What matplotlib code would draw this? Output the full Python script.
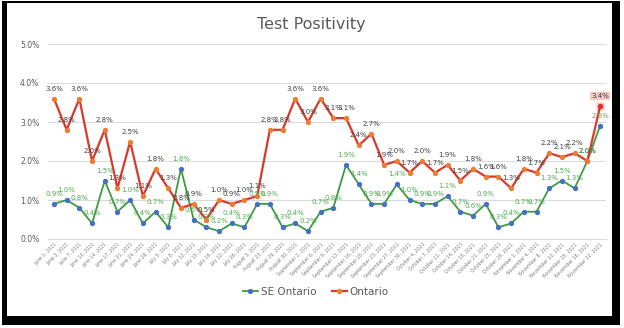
import matplotlib
matplotlib.use("Agg")
import matplotlib.pyplot as plt
from matplotlib.patches import Rectangle

dates = ["June 1, 2021", "June 3, 2021", "June 7, 2021", "June 10, 2021", "June 14, 2021",
         "June 17, 2021", "June 21, 2021", "June 24, 2021", "June 28, 2021", "July 5, 2021",
         "July 8, 2021", "July 12, 2021", "July 15, 2021", "July 19, 2021", "July 22, 2021",
         "July 26, 2021", "August 3, 2021", "August 23, 2021", "August 26, 2021", "August 30, 2021",
         "September 2, 2021", "September 6, 2021", "September 9, 2021", "September 13, 2021",
         "September 16, 2021", "September 20, 2021", "September 23, 2021", "September 27, 2021",
         "September 30, 2021", "October 4, 2021", "October 7, 2021", "October 11, 2021",
         "October 14, 2021", "October 18, 2021", "October 21, 2021", "October 25, 2021",
         "October 28, 2021", "November 1, 2021", "November 4, 2021", "November 8, 2021",
         "November 11, 2021", "November 15, 2021", "November 18, 2021", "November 22, 2021"]

se_ontario = [0.9, 1.0, 0.8, 0.4, 1.5, 0.7, 1.0, 0.4, 0.7, 0.3, 1.8, 0.5, 0.3, 0.2, 0.4,
              0.3, 0.9, 0.9, 0.3, 0.4, 0.2, 0.7, 0.8, 1.9, 1.4, 0.9, 0.9, 1.4, 1.0, 0.9,
              0.9, 1.1, 0.7, 0.6, 0.9, 0.3, 0.4, 0.7, 0.7, 1.3, 1.5, 1.3, 2.0, 2.9]

ontario = [3.6, 2.8, 3.6, 2.0, 2.8, 1.3, 2.5, 1.1, 1.8, 1.3, 0.8, 0.9, 0.5, 1.0, 0.9,
           1.0, 1.1, 2.8, 2.8, 3.6, 3.0, 3.6, 3.1, 3.1, 2.4, 2.7, 1.9, 2.0, 1.7, 2.0,
           1.7, 1.9, 1.5, 1.8, 1.6, 1.6, 1.3, 1.8, 1.7, 2.2, 2.1, 2.2, 2.0, 3.4]

yticks = [0.0, 1.0, 2.0, 3.0, 4.0, 5.0]

W, H = 624, 328
fig = plt.figure(figsize=(W / 100, H / 100), dpi=100)
fig.patch.set_facecolor("white")

# screenshot frame
fig.patches.append(Rectangle((2 / W, 1 - 325 / H), 618 / W, 324 / H, transform=fig.transFigure,
                             facecolor="black", edgecolor="none", zorder=-2))
fig.patches.append(Rectangle((7 / W, 1 - 316 / H), 605 / W, 313 / H, transform=fig.transFigure,
                             facecolor="white", edgecolor="none", zorder=-1))

left, right = 47.6 / W, 606.4 / W
bottom, top = 1 - 239 / H, 1 - 44 / H
ax = fig.add_axes([left, bottom, right - left, top - bottom])
ax.set_facecolor("none")

x = list(range(len(dates)))
ax.set_xlim(-0.5, len(dates) - 0.5)
ax.set_ylim(0, 5.0)

ax.plot(x, se_ontario, color="#3f9b3f", lw=1.3, marker="o", ms=2.8,
        mfc="#4472c4", mec="#4472c4", label="SE Ontario", zorder=3)
ax.plot(x, ontario, color="#d9392a", lw=1.6, marker="o", ms=2.8,
        mfc="#ed7d31", mec="#ed7d31", label="Ontario", zorder=4)

# highlight last Ontario point
ax.plot([x[-1]], [ontario[-1]], marker="s", ms=6, mfc="#f6c9c4", mec="none", zorder=3.5)
ax.plot([x[-1]], [ontario[-1]], marker="o", ms=2.8, mfc="#e0302a", mec="#e0302a", zorder=5)

for i, v in enumerate(ontario):
    kw = {}
    if i == len(ontario) - 1:
        kw = dict(bbox=dict(boxstyle="square,pad=0.15", facecolor="#f6c9c4", edgecolor="none"))
    ax.annotate(f"{v:.1f}%", (i, v), xytext=(0, 5), textcoords="offset points",
                ha="center", va="bottom", fontsize=5, color="#404040", zorder=6, **kw)
for i, v in enumerate(se_ontario):
    ax.annotate(f"{v:.1f}%", (i, v), xytext=(0, 5), textcoords="offset points",
                ha="center", va="bottom", fontsize=5, color="#4caf50", zorder=6)

ax.set_yticks(yticks)
ax.set_yticklabels([f"{t:.1f}%" for t in yticks], fontsize=5.5, color="#595959")
ax.set_xticks(x)
ax.set_xticklabels(dates, rotation=45, ha="right", va="top", rotation_mode="anchor",
                   fontsize=3.3, color="#7f7f7f")
ax.tick_params(axis="both", length=0, pad=2)
ax.tick_params(axis="y", pad=6)
ax.grid(axis="y", color="#d9d9d9", lw=0.7)
ax.set_axisbelow(True)
for s in ["top", "right", "left"]:
    ax.spines[s].set_visible(False)
ax.spines["bottom"].set_color("#d9d9d9")
ax.spines["bottom"].set_linewidth(0.7)

fig.text(311 / W, 1 - 25 / H, "Test Positivity", ha="center", va="center",
         fontsize=11.5, color="#595959")

leg = fig.legend(loc="center", bbox_to_anchor=(316 / W, 1 - 292 / H), ncol=2, frameon=False,
                 fontsize=7.5, handlelength=1.4, handletextpad=0.3, columnspacing=1.5,
                 labelcolor="#595959")

fig.savefig("out.png", dpi=100, facecolor=fig.get_facecolor())
